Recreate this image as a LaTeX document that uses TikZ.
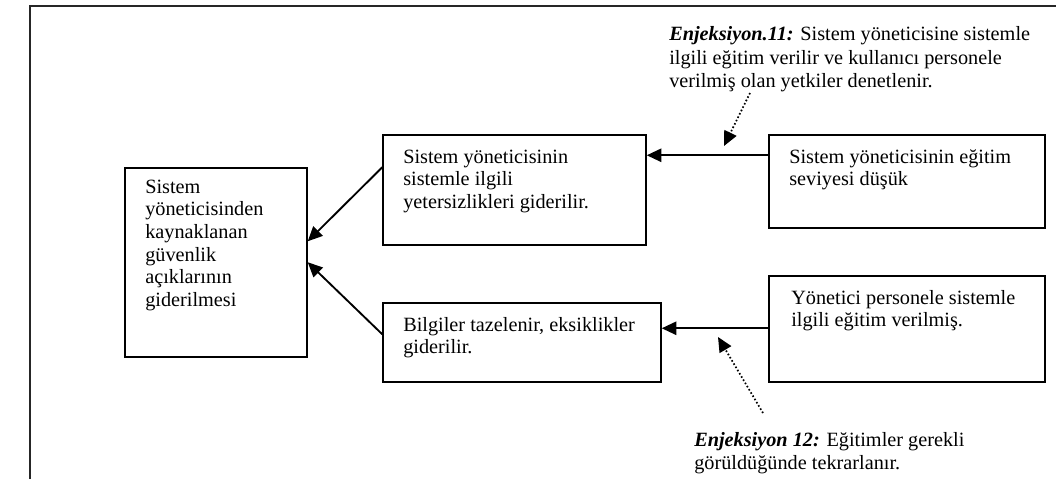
\documentclass[tikz,border=0pt]{standalone}
\usepackage{fontspec}
\setmainfont{Liberation Serif}
\usetikzlibrary{fit,arrows.meta}
\begin{document}
\begin{tikzpicture}[x=0.75pt,y=-0.75pt,
  box/.style={draw=black,line width=1.1pt,inner sep=0pt},
  txt/.style={anchor=base west,align=left,inner sep=0pt,font=\fontsize{15.2}{17}\selectfont},
  arr/.style={line width=1.4pt,-{Triangle[length=11pt,width=10pt]}},
  dotarr/.style={line width=1.3pt,dash pattern=on 1.2pt off 1.6pt,-{Triangle[length=11pt,width=10pt]}},
  frame/.style={line width=1.6pt,draw=black!85}]
\useasboundingbox (0,0) rectangle (1056,479);
\draw[frame] (30,479) -- (30,6) -- (1056,6);
% boxes
\node[box,fit={(125,168) (307,357)}] (L) {};
\node[box,fit={(383,135) (646,245)}] (TM) {};
\node[box,fit={(383,303) (661,382)}] (BM) {};
\node[box,fit={(769,135) (1045,228)}] (TR) {};
\node[box,fit={(769,276) (1045,382)}] (BR) {};
% texts (anchored at the baseline of the last line)
\node[txt] (tL) at (145,306.5) {Sistem\\yöneticisinden\\kaynaklanan\\güvenlik\\açıklarının\\giderilmesi};
\node[txt] (tTM) at (403,208.4) {Sistem yöneticisinin\\sistemle ilgili\\yetersizlikleri giderilir.};
\node[txt] (tBM) at (403,353.7) {Bilgiler tazelenir, eksiklikler\\giderilir.};
\node[txt] (tTR) at (789,185.7) {Sistem yöneticisinin eğitim\\seviyesi düşük};
\node[txt] (tBR) at (791,326.7) {Yönetici personele sistemle\\ilgili eğitim verilmiş.};
\node[txt,font=\fontsize{15.2}{17.5}\selectfont] (E11) at (669,87.6) {\textbf{\textit{Enjeksiyon.11:}} Sistem yöneticisine sistemle\\ilgili eğitim verilir ve kullanıcı personele\\verilmiş olan yetkiler denetlenir.};
\node[txt] (E12) at (694,469) {\textbf{\textit{Enjeksiyon 12:}} Eğitimler gerekli\\görüldüğünde tekrarlanır.};
% connectors
\draw[arr] ([yshift=-15.75pt]TR.north west) -- ([yshift=-15.75pt]TM.north east);
\draw[arr] ([yshift=-39.75pt]BR.north west) -- ([yshift=-19.5pt]BM.north east);
\draw[arr] ([yshift=-24.75pt]TM.north west) -- ([yshift=-55.5pt]L.north east);
\draw[arr] ([yshift=-24pt]BM.north west) -- ([yshift=-71.25pt]L.north east);
\coordinate (d1s) at (750,93);
\coordinate (d1e) at (724,146);
\coordinate (d2s) at (763,413);
\coordinate (d2e) at (718,337);
\draw[dotarr] (d1s) -- (d1e);
\draw[dotarr] (d2s) -- (d2e);
\end{tikzpicture}
\end{document}
